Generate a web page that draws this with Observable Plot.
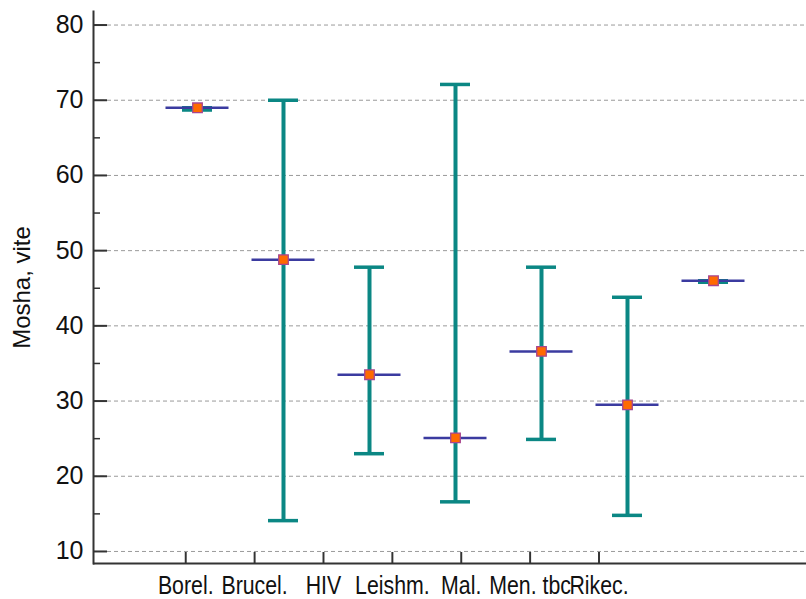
<!DOCTYPE html>
<html>
<head>
<meta charset="utf-8">
<script src="https://cdn.jsdelivr.net/npm/d3@7"></script>
<script src="https://cdn.jsdelivr.net/npm/@observablehq/plot@0.6"></script>
<style>
  body { margin: 0; background: white; }
  #wrap { position: relative; width: 806px; height: 599px; overflow: hidden; }
  #wrap svg { position: absolute; left: 0; top: 0; }
</style>
</head>
<body>
<div id="wrap"></div>
<script>
const categories = ["Borel.", "Brucel.", "HIV", "Leishm.", "Mal.", "Men. tbc", "Rikec."];
const means = [69.0, 48.8, 33.5, 25.1, 36.6, 29.5, 46.0];
const lows  = [68.7, 14.1, 23.0, 16.6, 24.9, 14.8, 45.8];
const highs = [69.0, 70.0, 47.8, 72.1, 47.8, 43.8, 46.0];
const yTicks = [10, 20, 30, 40, 50, 60, 70, 80];
const yMinorTicks = [15, 25, 35, 45, 55, 65, 75];
const yTitle = "Mosha, vite";

const table = categories.map((c, i) => ({cat: c, mean: means[i], lo: lows[i], hi: highs[i]}));

const W = 806, H = 599;
const margins = {marginLeft: 93, marginRight: 0, marginTop: 11, marginBottom: 36};
const yDomain = [8.4, 81.8];
const font = "'Liberation Sans', Arial, sans-serif";
const teal = "#0b8784";
const navy = "#3b3ba0";
const axisColor = "#333";

const main = Plot.plot({
  width: W, height: H, ...margins,
  style: {fontFamily: font, background: "transparent"},
  x: {type: "band", domain: categories, range: [150.5, 758.5], padding: 0, axis: null},
  y: {domain: yDomain, label: null},
  marks: [
    Plot.gridY(yTicks, {stroke: "#9a9a9a", strokeOpacity: 1, strokeDasharray: "4,3", strokeWidth: 1}),
    Plot.axisY(yMinorTicks, {tickSize: -7, tickFormat: () => "", stroke: axisColor, strokeWidth: 1.5, label: null}),
    Plot.axisY(yTicks, {tickSize: -14, tickPadding: 24, fontSize: 25, fill: "#111", stroke: axisColor, strokeWidth: 2, label: null}),
    Plot.frame({anchor: "left", stroke: axisColor, strokeWidth: 2}),
    Plot.ruleY([yDomain[0]], {stroke: axisColor, strokeWidth: 2}),
    Plot.ruleX(table, {x: "cat", y1: "lo", y2: "hi", stroke: teal, strokeWidth: 4}),
    Plot.tickY(table, {x: "cat", y: "hi", stroke: teal, strokeWidth: 3.5, insetLeft: 28, insetRight: 28}),
    Plot.tickY(table, {x: "cat", y: "lo", stroke: teal, strokeWidth: 3.5, insetLeft: 28, insetRight: 28}),
    Plot.tickY(table, {x: "cat", y: "mean", stroke: navy, strokeWidth: 2.5, insetLeft: 11.5, insetRight: 11.5}),
    Plot.dot(table, {x: "cat", y: "mean", symbol: "square", r: 5.4, fill: "#ff6a00", stroke: "#a8458f", strokeWidth: 1.3}),
    Plot.text([yTitle], {text: d => d, frameAnchor: "left", textAnchor: "middle", rotate: -90, dx: -71, fontSize: 24, fill: "#111"})
  ]
});

// The category labels of the reference are set in a condensed face: the x-axis layer is drawn
// wider and squeezed horizontally by the factor s.
const s = 0.82;
const xAxisPlot = Plot.plot({
  width: W / s, height: H,
  marginLeft: margins.marginLeft / s, marginRight: 0, marginTop: margins.marginTop, marginBottom: margins.marginBottom,
  style: {fontFamily: font, background: "transparent", maxWidth: "none", transform: `scaleX(${s})`, transformOrigin: "0 0"},
  x: {type: "point", domain: categories, range: [184.3 / s, 600.3 / s], padding: 0, label: null},
  marks: [
    Plot.axisX({tickSize: -11, tickPadding: 23, fontSize: 26, fill: "#111", stroke: axisColor, strokeWidth: 2.4, label: null})
  ]
});

const wrap = document.getElementById("wrap");
wrap.appendChild(main);
wrap.appendChild(xAxisPlot);
</script>
</body>
</html>
